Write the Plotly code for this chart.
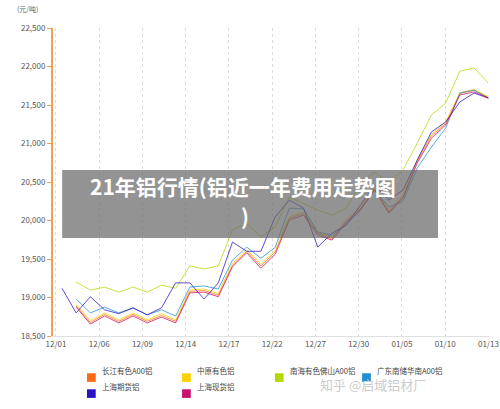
import plotly.graph_objects as go

tick_labels = ["12/01","12/06","12/09","12/14","12/17","12/22","12/27","12/30","01/05","01/10","01/13"]
idx = list(range(31))

shanghai_spot = [None,18875,18655,18760,18670,18760,18670,18745,18670,19060,19070,19010,19400,19580,19380,19560,20005,20070,19810,19745,19970,20135,20395,20095,20290,20745,21070,21240,21630,21670,21590]
changjiang = [None,18890,18675,18780,18690,18780,18690,18765,18690,19080,19090,19030,19420,19600,19410,19590,20030,20090,19830,19760,19990,20150,20410,20110,20310,20770,21100,21260,21650,21690,21600]
zhongyuan = [None,18910,18700,18800,18710,18800,18710,18790,18710,19100,19110,19050,19440,19620,19440,19610,20050,20110,19850,19780,20010,20170,20430,20130,20330,20790,21120,21280,21660,21700,21610]
nanhai = [None,19200,19096,19135,19070,19135,19070,19160,19120,19410,19370,19410,19880,19960,19790,19915,20305,20220,20135,20070,20160,20485,20630,20485,20655,21005,21370,21525,21940,21980,21785]
guangdong = [None,18980,18800,18875,18800,18865,18775,18840,18760,19135,19150,19110,19485,19655,19510,19650,20160,20150,19850,19810,19940,20135,20395,20175,20250,20680,20955,21200,21655,21695,21590]
shanghai_fut = [19120,18800,19010,18840,18790,18865,18775,18865,19190,19190,18980,19190,19720,19600,19600,20045,20265,20160,19655,19835,19940,20200,20460,20265,20395,20785,21150,21280,21540,21655,21590]

series = [
    ("长江有色A00铝", changjiang, "#FF6A13"),
    ("中原有色铝", zhongyuan, "#FFD000"),
    ("南海有色佛山A00铝", nanhai, "#B5D800"),
    ("广东南储华南A00铝", guangdong, "#1E90D0"),
    ("上海期货铝", shanghai_fut, "#2A12C8"),
    ("上海现货铝", shanghai_spot, "#C8106E"),
]

fig = go.Figure()
for name, vals, col in series:
    fig.add_trace(go.Scatter(x=idx, y=vals, mode="lines", name=name,
                             line=dict(color=col, width=1), opacity=0.75,
                             showlegend=False))

tickvals = [-0.42 + 3.043 * k for k in range(len(tick_labels))]
font = "Noto Sans CJK SC"
fig.update_layout(
    width=500, height=409, margin=dict(l=53, r=11, t=28, b=73),
    paper_bgcolor="white", plot_bgcolor="white",
    font=dict(family=font, size=8, color="#555"),
    xaxis=dict(range=[-0.63, 30.05], tickvals=tickvals, ticktext=tick_labels,
               showgrid=True, gridcolor="#dddddd", griddash="dot", gridwidth=1,
               showline=True, linecolor="#e0e0e0", ticks="", zeroline=False,
               automargin=False, tickfont=dict(size=8, color="#555")),
    yaxis=dict(range=[18500, 22500], dtick=500, tickformat=",", showgrid=False,
               showline=True, linecolor="#F0A050", linewidth=2, ticks="outside",
               ticklen=4, tickcolor="#F0A050", zeroline=False, automargin=False,
               tickfont=dict(size=8, color="#555")),
)
fig.add_annotation(text="(元/吨)", xref="paper", yref="paper", x=-0.03, y=1.04,
                   showarrow=False, font=dict(size=7, color="#666"), xanchor="right", yanchor="bottom")
fig.add_shape(type="rect", xref="paper", yref="paper", x0=0.021, x1=0.883, y0=0.318, y1=0.539,
              fillcolor="rgba(105,105,105,0.72)", line=dict(width=0), layer="above")
fig.add_annotation(text="<b>21年铝行情(铝近一年费用走势图</b>", xref="paper", yref="paper",
                   x=0.435, y=0.487, showarrow=False,
                   font=dict(size=21, color="white", family=font))
fig.add_annotation(text="<b>)</b>", xref="paper", yref="paper",
                   x=0.44, y=0.39, showarrow=False,
                   font=dict(size=21, color="white", family=font))

leg_pos = [(0.078, -0.135), (0.296, -0.135), (0.509, -0.135), (0.709, -0.135), (0.078, -0.187), (0.296, -0.187)]
for (name, vals, col), (lx, ly) in zip(series, leg_pos):
    fig.add_shape(type="rect", xref="paper", yref="paper", x0=lx, x1=lx + 0.02,
                  y0=ly - 0.014, y1=ly + 0.014, fillcolor=col, line=dict(width=0))
    fig.add_annotation(text=name, xref="paper", yref="paper", x=lx + 0.03, y=ly,
                       xanchor="left", showarrow=False, font=dict(size=7.5, color="#444"))
fig.add_annotation(text="知乎 @启域铝材厂", xref="paper", yref="paper", x=0.86, y=-0.195,
                   showarrow=False, font=dict(size=13, color="#cccccc"))
fig.write_html("out.html", config={"displayModeBar": False},
               post_script="document.body.style.margin='0';")
